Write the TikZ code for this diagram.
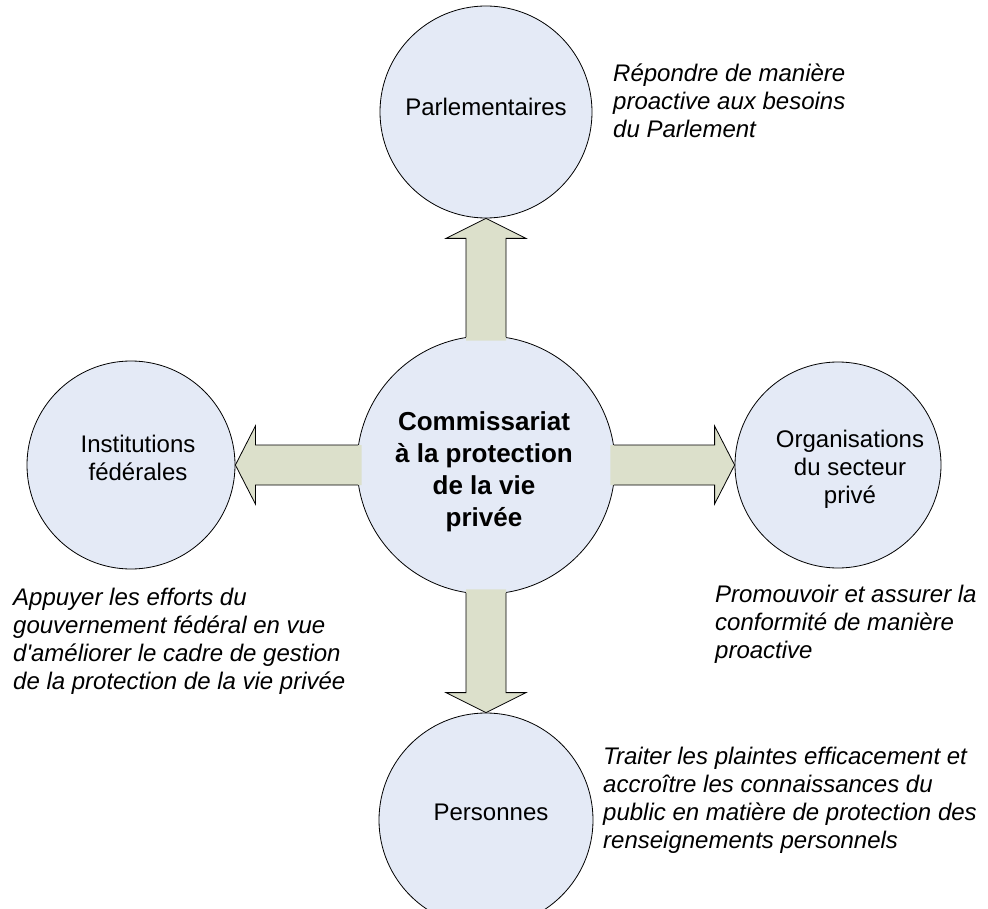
\documentclass[tikz,border=0pt]{standalone}
\usepackage{fontspec}
\setmainfont{Liberation Sans}[Ligatures=TeXOff]
\usetikzlibrary{calc}
\definecolor{bubblefill}{HTML}{E4EAF6}
\definecolor{arrowfill}{HTML}{DCE0CB}
\newcommand\rowsc[1]{\begin{tabular}[t]{@{}c@{}}#1\end{tabular}}
\newcommand\rowsl[1]{\begin{tabular}[t]{@{}l@{}}#1\end{tabular}}
\begin{document}
\begin{tikzpicture}[x=1pt,y=-1pt,
  bubble/.style={circle,draw=black,line width=0.8pt,fill=bubblefill,inner sep=0pt,minimum size=#1},
  lbl/.style={font=\fontsize{24}{28}\selectfont,anchor=base,inner sep=0pt},
  boldlbl/.style={font=\fontsize{26}{32}\selectfont\bfseries,anchor=base,inner sep=0pt},
  note/.style={font=\fontsize{24}{28}\selectfont\itshape,anchor=base west,inner sep=0pt},
  afill/.style={fill=arrowfill},
  aline/.style={draw=black,line width=0.8pt,line join=miter}]
\useasboundingbox (0,0) rectangle (988,909);
\clip (0,0) rectangle (988,909);
\fill[white] (0,0) rectangle (988,909);

% circles
\node[bubble=258pt] (c) at (486,465) {};
\node[bubble=212pt] (p) at (486,112) {};
\node[bubble=208pt] (l) at (131,465) {};
\node[bubble=206pt] (r) at (838,465) {};
\node[bubble=214pt] (b) at (486,820) {};

% up arrow
\fill[afill] ($(c.north)+(-20,5)$) -- ($(p.south)+(-20,20)$) -- ($(p.south)+(-40,20)$) -- (p.south) -- ($(p.south)+(40,20)$) -- ($(p.south)+(20,20)$) -- ($(c.north)+(20,5)$) -- cycle;
\draw[aline] ($(c.north)+(-20,1.5)$) -- ($(p.south)+(-20,20)$) -- ($(p.south)+(-40,20)$) -- (p.south) -- ($(p.south)+(40,20)$) -- ($(p.south)+(20,20)$) -- ($(c.north)+(20,1.5)$);
% left arrow
\fill[afill] ($(c.west)+(5,-20)$) -- ($(l.east)+(20,-20)$) -- ($(l.east)+(20,-39)$) -- (l.east) -- ($(l.east)+(20,39)$) -- ($(l.east)+(20,20)$) -- ($(c.west)+(5,20)$) -- cycle;
\draw[aline] ($(c.west)+(1.5,-20)$) -- ($(l.east)+(20,-20)$) -- ($(l.east)+(20,-39)$) -- (l.east) -- ($(l.east)+(20,39)$) -- ($(l.east)+(20,20)$) -- ($(c.west)+(1.5,20)$);
% right arrow
\fill[afill] ($(c.east)+(-5,-20)$) -- ($(r.west)+(-20,-20)$) -- ($(r.west)+(-20,-39)$) -- (r.west) -- ($(r.west)+(-20,39)$) -- ($(r.west)+(-20,20)$) -- ($(c.east)+(-5,20)$) -- cycle;
\draw[aline] ($(c.east)+(-1.5,-20)$) -- ($(r.west)+(-20,-20)$) -- ($(r.west)+(-20,-39)$) -- (r.west) -- ($(r.west)+(-20,39)$) -- ($(r.west)+(-20,20)$) -- ($(c.east)+(-1.5,20)$);
% down arrow
\fill[afill] ($(c.south)+(-20,-5)$) -- ($(b.north)+(-20,-20)$) -- ($(b.north)+(-40,-20)$) -- (b.north) -- ($(b.north)+(40,-20)$) -- ($(b.north)+(20,-20)$) -- ($(c.south)+(20,-5)$) -- cycle;
\draw[aline] ($(c.south)+(-20,-1.5)$) -- ($(b.north)+(-20,-20)$) -- ($(b.north)+(-40,-20)$) -- (b.north) -- ($(b.north)+(40,-20)$) -- ($(b.north)+(20,-20)$) -- ($(c.south)+(20,-1.5)$);

% circle texts
\node[lbl] (tp) at (486,116) {Parlementaires};
\node[boldlbl] (tc) at (484,430) {\rowsc{Commissariat\\à la protection\\de la vie\\privée}};
\node[lbl] (tl) at (138,452) {\rowsc{Institutions\\fédérales}};
\node[lbl] (tr) at (850,447) {\rowsc{Organisations\\du secteur\\privé}};
\node[lbl] (tb) at (491,820) {Personnes};

% notes
\node[note] (np) at (613,82) {\rowsl{Répondre de manière\\proactive aux besoins\\du Parlement}};
\node[note] (nl) at (13,605) {\rowsl{Appuyer les efforts du\\gouvernement fédéral en vue\\d'améliorer le cadre de gestion\\de la protection de la vie privée}};
\node[note] (nr) at (715,602) {\rowsl{Promouvoir et assurer la\\conformité de manière\\proactive}};
\node[note] (nb) at (603,764) {\rowsl{Traiter les plaintes efficacement et\\accroître les connaissances du\\public en matière de protection des\\renseignements personnels}};
\end{tikzpicture}
\end{document}
